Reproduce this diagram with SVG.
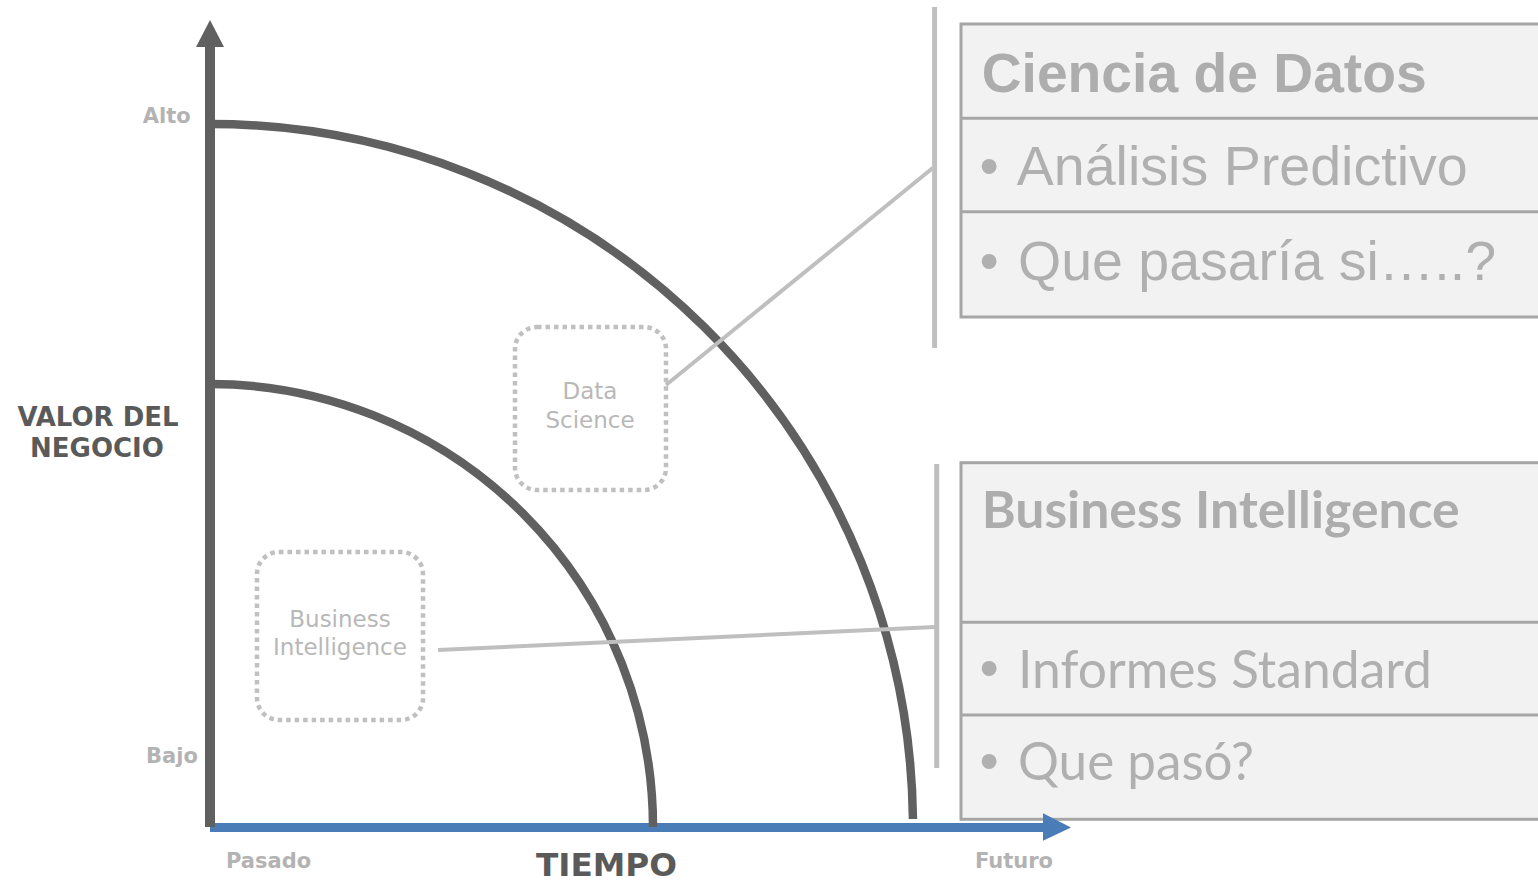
<svg xmlns="http://www.w3.org/2000/svg" width="1538" height="881" viewBox="0 0 1538 881">
<style>
.axis{stroke:#606060;fill:none}
.arc{stroke:#606060;stroke-width:8.5;fill:none}
.conn{stroke:#bfbfbf;stroke-width:4;fill:none}
.brace{stroke:#bfbfbf;stroke-width:5;fill:none}
.dotbox{fill:none;stroke:#c0c0c0;stroke-width:4.5;stroke-dasharray:4.5 4}
.panel{fill:#f2f2f2;stroke:#a6a6a6;stroke-width:3}
.div{stroke:#a6a6a6;stroke-width:3}
.lbl{font-family:"DejaVu Sans",Verdana,sans-serif;font-weight:bold;font-size:21px;fill:#b3b3b3}
.ttl{font-family:"DejaVu Sans",Verdana,sans-serif;font-weight:bold;fill:#5a5a5a}
.node{font-family:"DejaVu Sans",Verdana,sans-serif;font-size:23px;fill:#b8b8b8;text-anchor:middle}
.arialb{font-family:"Liberation Sans",Arial,sans-serif;font-weight:bold;font-size:55.5px;fill:#adadad}
.arial{font-family:"Liberation Sans",Arial,sans-serif;font-size:55px;fill:#b0b0b0}
.calb{font-family:Lato,"Open Sans",sans-serif;font-weight:bold;font-size:52px;fill:#adadad}
.cal{font-family:Lato,"Open Sans",sans-serif;font-size:52px;fill:#b0b0b0}
</style>
<rect width="1538" height="881" fill="#ffffff"/>

<g id="right-panel-ds">
<line class="brace" x1="934.6" y1="7" x2="934.6" y2="348"/>
<rect class="panel" x="961" y="24" width="620" height="293"/>
<line class="div" x1="961" y1="118.3" x2="1540" y2="118.3"/>
<line class="div" x1="961" y1="211.7" x2="1540" y2="211.7"/>
<text class="arialb" x="981.7" y="91.7" textLength="445" lengthAdjust="spacingAndGlyphs">Ciencia de Datos</text>
<text class="arial" x="979.5" y="185">•</text>
<text class="arial" x="1016.7" y="185" textLength="451" lengthAdjust="spacingAndGlyphs">Análisis Predictivo</text>
<text class="arial" x="979.5" y="279.5">•</text>
<text class="arial" x="1018" y="279.5" textLength="478" lengthAdjust="spacingAndGlyphs">Que pasaría si…..?</text>
</g>

<g id="right-panel-bi">
<line class="brace" x1="936.7" y1="464" x2="936.7" y2="768"/>
<rect class="panel" x="961" y="462.7" width="620" height="356.6"/>
<line class="div" x1="961" y1="622.3" x2="1540" y2="622.3"/>
<line class="div" x1="961" y1="715" x2="1540" y2="715"/>
<text class="calb" x="981.7" y="528.3" textLength="478" lengthAdjust="spacingAndGlyphs">Business Intelligence</text>
<text class="arial" x="979.5" y="687">•</text>
<text class="cal" x="1018" y="687.7" textLength="414" lengthAdjust="spacingAndGlyphs">Informes Standard</text>
<text class="arial" x="979.5" y="780">•</text>
<text class="cal" x="1018" y="780" textLength="236" lengthAdjust="spacingAndGlyphs">Que pasó?</text>
</g>

<g id="x-axis">
<line x1="210" y1="827.4" x2="1045" y2="827.4" stroke="#4a7cb8" stroke-width="9"/>
<polygon points="1043,813.3 1071,827.4 1043,840.7" fill="#4a7cb8"/>
</g>

<g id="arcs">
<path class="arc" d="M210 124 A703 703 0 0 1 912.95 819"/>
<path class="arc" d="M210 384 A443 443 0 0 1 653 827"/>
</g>

<g id="connectors">
<line class="conn" x1="666" y1="385" x2="934" y2="167"/>
<line class="conn" x1="438" y1="650" x2="935" y2="627"/>
</g>

<g id="node-data-science">
<rect class="dotbox" x="515" y="327" width="151" height="163" rx="22" ry="22"/>
<text class="node" x="590" y="399">Data</text>
<text class="node" x="590" y="428">Science</text>
</g>

<g id="node-business-intelligence">
<rect class="dotbox" x="257" y="552" width="166" height="168" rx="22" ry="22"/>
<text class="node" x="340" y="627.3">Business</text>
<text class="node" x="340" y="655">Intelligence</text>
</g>

<g id="y-axis">
<line class="axis" x1="210" y1="45" x2="210" y2="827" stroke-width="10"/>
<polygon points="210,20 196,47 224,47" fill="#606060"/>
</g>

<g id="labels">
<text class="lbl" x="190.7" y="122.7" text-anchor="end">Alto</text>
<text class="lbl" x="146" y="763">Bajo</text>
<text class="lbl" x="226" y="868">Pasado</text>
<text class="lbl" x="975" y="867.5">Futuro</text>
<text class="ttl" x="98" y="426" font-size="26" text-anchor="middle">VALOR DEL</text>
<text class="ttl" x="97" y="457.3" font-size="26" text-anchor="middle">NEGOCIO</text>
<text class="ttl" x="536" y="875.5" font-size="32" textLength="141" lengthAdjust="spacingAndGlyphs">TIEMPO</text>
</g>
</svg>
